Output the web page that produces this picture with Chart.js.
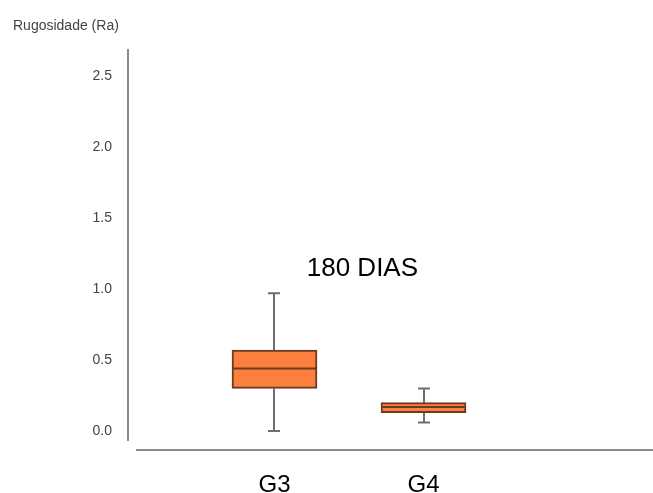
<!DOCTYPE html>
<html>
<head>
<meta charset="utf-8">
<script src="https://cdn.jsdelivr.net/npm/chart.js"></script>
<style>
  html, body { margin: 0; padding: 0; background: #fff; }
  #wrap { width: 653px; height: 493px; }
</style>
</head>
<body>
<div id="wrap"><canvas id="myChart"></canvas></div>
<script>
// grupos e estatisticas do boxplot (180 dias)
const categories = ['G3', 'G4'];
const minVals = [0.0, 0.06];
const q1Vals = [0.30, 0.13];
const medianVals = [0.44, 0.17];
const q3Vals = [0.57, 0.20];
const maxVals = [0.97, 0.30];
const yTicks = [0.0, 0.5, 1.0, 1.5, 2.0, 2.5];
const noteText = '180 DIAS';

const boxFill = '#fd7f3d';
const boxLine = '#6a3b22';
const whiskerColor = '#6e6e6e';
const fontFamily = '"Liberation Sans", Arial, sans-serif';

// bigodes, mediana, eixo x e texto
const boxPlot = {
  id: 'boxPlot',
  beforeDatasetsDraw(chart) {
    const { ctx, scales: { x, y } } = chart;
    ctx.save();
    ctx.strokeStyle = whiskerColor;
    ctx.lineWidth = 2;
    categories.forEach((c, i) => {
      const cx = Math.round(x.getPixelForValue(i + 1));
      const yMax = y.getPixelForValue(maxVals[i]);
      const yMin = y.getPixelForValue(minVals[i]);
      ctx.beginPath();
      ctx.moveTo(cx, yMax);
      ctx.lineTo(cx, y.getPixelForValue(q3Vals[i]));
      ctx.moveTo(cx, y.getPixelForValue(q1Vals[i]));
      ctx.lineTo(cx, yMin);
      ctx.moveTo(cx - 6, yMax);
      ctx.lineTo(cx + 6, yMax);
      ctx.moveTo(cx - 6, yMin);
      ctx.lineTo(cx + 6, yMin);
      ctx.stroke();
    });
    ctx.restore();
  },
  afterDatasetsDraw(chart) {
    const { ctx, scales: { y } } = chart;
    const bars = chart.getDatasetMeta(0).data;
    ctx.save();
    ctx.strokeStyle = boxLine;
    ctx.lineWidth = 2;
    bars.forEach((bar, i) => {
      const my = y.getPixelForValue(medianVals[i]);
      ctx.beginPath();
      ctx.moveTo(bar.x - bar.width / 2, my);
      ctx.lineTo(bar.x + bar.width / 2, my);
      ctx.stroke();
    });
    ctx.restore();
  },
  afterDraw(chart) {
    const { ctx, chartArea, scales: { x, y } } = chart;
    ctx.save();
    ctx.strokeStyle = '#8a8a8a';
    ctx.lineWidth = 2;
    ctx.beginPath();
    ctx.moveTo(chartArea.left + 8, chartArea.bottom + 10);
    ctx.lineTo(chart.width, chartArea.bottom + 10);
    ctx.stroke();

    ctx.fillStyle = '#000';
    ctx.font = '26px ' + fontFamily;
    ctx.textAlign = 'center';
    ctx.textBaseline = 'alphabetic';
    ctx.fillText(noteText, x.getPixelForValue(1.59), y.getPixelForValue(1.09));
    ctx.restore();
  }
};

new Chart(document.getElementById('myChart'), {
  type: 'bar',
  data: {
    datasets: [{
      data: categories.map((c, i) => ({ x: i + 1, y: [q1Vals[i], q3Vals[i]] })),
      backgroundColor: boxFill,
      borderColor: boxLine,
      borderWidth: 2,
      borderSkipped: false,
      barThickness: 85
    }]
  },
  options: {
    responsive: true,
    maintainAspectRatio: false,
    animation: false,
    layout: { padding: { left: 13, right: 0, top: 0, bottom: 0 } },
    plugins: {
      legend: { display: false },
      tooltip: { enabled: false },
      title: {
        display: true,
        text: 'Rugosidade (Ra)',
        align: 'start',
        color: '#444',
        font: { size: 14, family: fontFamily, weight: 'normal' },
        padding: { top: 18, bottom: 15 }
      }
    },
    scales: {
      x: {
        type: 'linear',
        offset: false,
        min: 0.017,
        max: 3.54,
        grid: { display: false, drawTicks: false },
        border: { display: false },
        afterBuildTicks(scale) {
          scale.ticks = categories.map((c, i) => ({ value: i + 1 }));
        },
        afterFit(scale) {
          scale.height = 53;
        },
        ticks: {
          autoSkip: false,
          maxRotation: 0,
          padding: 31,
          color: '#000',
          font: { size: 24, family: fontFamily },
          callback: (v) => categories[v - 1]
        }
      },
      y: {
        min: -0.063,
        max: 2.683,
        grid: { display: false, drawTicks: false },
        border: { display: true, color: '#8a8a8a', width: 2 },
        afterBuildTicks(scale) {
          scale.ticks = yTicks.map(v => ({ value: v }));
        },
        afterFit(scale) {
          scale.width = 115;
        },
        ticks: {
          padding: 16,
          color: '#444',
          font: { size: 14, family: fontFamily },
          callback: (v) => v.toFixed(1)
        }
      }
    }
  },
  plugins: [boxPlot]
});
</script>
</body>
</html>
